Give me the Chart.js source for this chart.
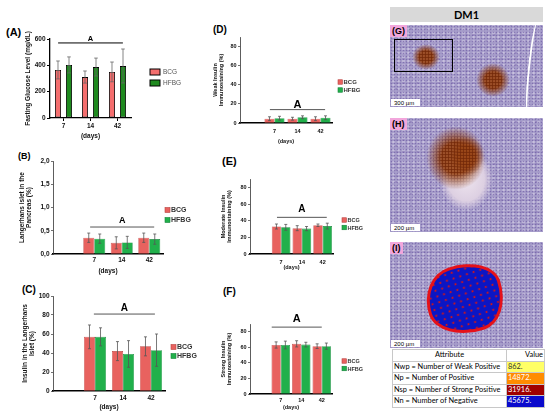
<!DOCTYPE html>
<html>
<head>
<meta charset="utf-8">
<script src="https://cdn.jsdelivr.net/npm/chart.js@4.4.0/dist/chart.umd.min.js"></script>
<style>
  html, body { margin: 0; padding: 0; background: #fff; }
  #fig { position: relative; width: 550px; height: 418px; overflow: hidden; font-family: "Liberation Sans", Arial, sans-serif; }
  #fig canvas { position: absolute; }
  .plabel { position: absolute; font-weight: bold; color: #000; line-height: 1; }
  #dm1 { position: absolute; left: 390px; top: 7px; width: 153px; height: 15px; background: #d9d9d9;
         font: bold 11px Lato, "Open Sans", sans-serif; text-align: center; line-height: 15px; }
  .tissue { position: absolute; overflow: hidden; background-color: #a69dca;
    background-image: radial-gradient(circle, rgba(95,75,155,0.55) 0.6px, transparent 1.1px),
                      radial-gradient(circle, rgba(240,236,248,0.45) 0.9px, transparent 1.6px),
                      radial-gradient(circle, rgba(120,100,170,0.35) 0.8px, transparent 1.4px);
    background-size: 3px 3px, 5px 4px, 7px 6px; background-position: 0 0, 1px 2px, 3px 1px; }
  .blob { position: absolute; border-radius: 50%; }
  .brown { background-image: radial-gradient(circle, rgba(115,40,8,0.95) 0.9px, transparent 1.5px),
             radial-gradient(circle, rgba(160,75,25,0.85) 0.7px, transparent 1.2px),
             radial-gradient(ellipse, rgba(170,90,45,0.55) 0%, rgba(170,90,45,0.25) 50%, rgba(170,90,45,0) 70%);
           background-size: 3px 3px, 2px 2px, 100% 100%; background-position: 0 0, 1px 1px, 0 0;
           -webkit-mask-image: radial-gradient(ellipse, #000 35%, rgba(0,0,0,0) 70%);
           mask-image: radial-gradient(ellipse, #000 35%, rgba(0,0,0,0) 70%); }
  .tag { position: absolute; left: 0; top: 0; background: #f2a6dc; font: bold 9px "Liberation Sans", Arial, sans-serif; padding: 1px 2px; }
  .scale { position: absolute; left: 1px; bottom: 1px; background: #fff; font: 6px "Liberation Sans", Arial, sans-serif; padding: 1px 6px 0 3px; }
  .frame { position: absolute; border: 1.5px solid #000; }
  #tbl { position: absolute; left: 392px; top: 349px; width: 152px; table-layout: fixed; border-collapse: collapse; font: 7.4px Lato, "Open Sans", sans-serif; }
  #tbl td { border: 1px solid #c8c8c8; padding: 0 1px; height: 10.5px; line-height: 10px; white-space: nowrap; overflow: hidden; }
</style>
</head>
<body>
<div id="fig">
  <div class="plabel" style="left:6px;top:27px;font-size:11px">(A)</div>
  <div class="plabel" style="left:18px;top:152px;font-size:9px">(B)</div>
  <div class="plabel" style="left:22px;top:285px;font-size:10px">(C)</div>
  <div class="plabel" style="left:213px;top:25px;font-size:10px">(D)</div>
  <div class="plabel" style="left:222px;top:156px;font-size:11px">(E)</div>
  <div class="plabel" style="left:223px;top:287px;font-size:10px">(F)</div>

  <div id="dm1">DM1</div>

  <div class="tissue" style="left:390px;top:25px;width:153px;height:82px">
    <div class="blob brown" style="left:22px;top:19px;width:28px;height:26px"></div>
    <div class="blob brown" style="left:86px;top:38px;width:34px;height:34px"></div>
    <div style="position:absolute;left:138px;top:-5px;width:8px;height:95px;border-left:2px solid #fff;border-radius:50%;transform:rotate(6deg)"></div>
    <div class="frame" style="left:4px;top:14px;width:57px;height:31px"></div>
    <div class="tag">(G)</div>
    <div class="scale">300 µm</div>
  </div>

  <div class="tissue" style="left:390px;top:118px;width:153px;height:114px">
    <div class="blob" style="left:50px;top:30px;width:52px;height:62px;background:radial-gradient(ellipse, #eee4ee 0%, #ddd0e2 50%, rgba(221,208,226,0) 72%)"></div>
    <div class="blob brown" style="left:36px;top:8px;width:60px;height:64px"></div>
    <div class="blob brown" style="left:60px;top:18px;width:34px;height:40px"></div>
    <div class="tag">(H)</div>
    <div class="scale">200 µm</div>
  </div>

  <div class="tissue" style="left:390px;top:242px;width:153px;height:106px">
    <div style="position:absolute;left:36px;top:22px;width:72px;height:64px;background-color:#0b16c4;
         background-image:radial-gradient(circle, #d41515 0.8px, transparent 1.3px);background-size:7px 6px;
         border:3px solid #e5121a;border-radius:42% 58% 38% 62% / 55% 40% 60% 45%;transform:rotate(-18deg)"></div>
    <div class="tag">(I)</div>
    <div class="scale">200 µm</div>
  </div>

  <table id="tbl">
    <colgroup><col style="width:114px"><col style="width:38px"></colgroup>
    <tr><td style="text-align:center">Attribute</td><td style="text-align:right">Value</td></tr>
    <tr><td>Nwp = Number of Weak Positive</td><td style="background:#ffff66;color:#333">862.</td></tr>
    <tr><td>Np = Number of Positive</td><td style="background:#ff8c00;color:#fff">14872.</td></tr>
    <tr><td>Nsp = Number of Strong Positive</td><td style="background:#a00000;color:#fff">31916.</td></tr>
    <tr><td>Nn = Number of Negative</td><td style="background:#0a0acc;color:#fff">45675.</td></tr>
  </table>
</div>

<script>
// ---- data ----
const days = ['7', '14', '42'];
const groups = ['BCG', 'HFBG'];

const glucoseBCG = [365, 311, 350];
const glucoseBCGsd = [68, 46, 75];
const glucoseHFBG = [403, 387, 395];
const glucoseHFBGsd = [61, 68, 129];
const glucoseTicks = [0, 200, 400, 600];

const isletBCG = [0.35, 0.24, 0.35];
const isletBCGsd = [0.10, 0.13, 0.10];
const isletHFBG = [0.33, 0.25, 0.32];
const isletHFBGsd = [0.10, 0.13, 0.11];
const isletTicks = [0, 0.5, 1.0, 1.5, 2.0];

const insulinBCG = [57, 42, 47];
const insulinBCGsd = [12.5, 10, 10];
const insulinHFBG = [57, 39, 43];
const insulinHFBGsd = [9.5, 14, 17];
const insulinTicks = [0, 10, 20, 30, 40, 50, 60, 70, 80, 90, 100];

const weakBCG = [4.5, 4.5, 4.5];
const weakBCGsd = [2, 1.5, 2];
const weakHFBG = [5, 6, 5.5];
const weakHFBGsd = [2, 1.5, 2];

const moderateBCG = [33, 31, 34.5];
const moderateBCGsd = [3, 3, 1.5];
const moderateHFBG = [32, 30.5, 33.5];
const moderateHFBGsd = [3.5, 2.5, 3.5];

const strongBCG = [63, 64.5, 61.5];
const strongBCGsd = [4, 4, 3];
const strongHFBG = [63, 63.5, 61.5];
const strongHFBGsd = [5, 3, 4];

const stainTicks = [0, 10, 20, 30, 40, 50, 60, 70, 80, 90];

Chart.defaults.font.family = '"Liberation Sans", Arial, sans-serif';
const fig = document.getElementById('fig');

// error bars, significance bar and legend
const extras = {
  id: 'extras',
  afterDraw(chart, args, o) {
    const ctx = chart.ctx, x = chart.scales.x, y = chart.scales.y;
    ctx.save();
    ctx.strokeStyle = o.errColor;
    ctx.lineWidth = 0.8;
    chart.data.datasets.forEach((ds, i) => {
      chart.getDatasetMeta(i).data.forEach((bar, j) => {
        const v = ds.data[j];
        if (v == null) return;
        const t = y.getPixelForValue(v + ds.errors[j]);
        const b = y.getPixelForValue(v - ds.errors[j]);
        ctx.beginPath();
        ctx.moveTo(bar.x, b); ctx.lineTo(bar.x, t);
        ctx.moveTo(bar.x - o.cap, t); ctx.lineTo(bar.x + o.cap, t);
        ctx.moveTo(bar.x - o.cap, b); ctx.lineTo(bar.x + o.cap, b);
        ctx.stroke();
      });
    });

    const s = o.sig;
    const cw = x.getPixelForValue(1) - x.getPixelForValue(0);
    const x0 = x.getPixelForValue(s.from[0]) + s.from[1] * cw;
    const x1 = x.getPixelForValue(s.to[0]) + s.to[1] * cw;
    const sy = y.getPixelForValue(s.y);
    ctx.strokeStyle = s.color;
    ctx.lineWidth = 1;
    ctx.beginPath(); ctx.moveTo(x0, sy); ctx.lineTo(x1, sy); ctx.stroke();
    ctx.fillStyle = '#000';
    ctx.font = 'bold ' + s.font + 'px "Liberation Sans", Arial, sans-serif';
    ctx.textAlign = 'center';
    ctx.textBaseline = 'alphabetic';
    ctx.fillText('A', (x0 + x1) / 2, sy - s.gap);

    const L = o.legend;
    ctx.font = L.weight + ' ' + L.font + 'px "Liberation Sans", Arial, sans-serif';
    ctx.textAlign = 'left';
    ctx.textBaseline = 'middle';
    chart.data.datasets.forEach((ds, i) => {
      const cy = L.y - o.top + i * L.dy;
      const bx = L.x - o.left;
      ctx.fillStyle = ds.backgroundColor;
      ctx.fillRect(bx, cy - L.box[1] / 2, L.box[0], L.box[1]);
      ctx.strokeStyle = L.boxBorder || ds.borderColor;
      ctx.lineWidth = L.boxLine;
      ctx.strokeRect(bx, cy - L.box[1] / 2, L.box[0], L.box[1]);
      ctx.fillStyle = L.color;
      ctx.fillText(ds.label, L.textX - o.left, cy + 0.5);
    });
    ctx.restore();
  }
};

function panel(p) {
  const left = p.area[0] - p.yW, top = p.area[1] - p.padTop;
  const w = p.area[2] + p.padRight - left, h = p.area[3] + p.xH - top;
  const cv = document.createElement('canvas');
  cv.width = w; cv.height = h;
  cv.style.left = left + 'px'; cv.style.top = top + 'px';
  cv.style.width = w + 'px'; cv.style.height = h + 'px';
  fig.appendChild(cv);

  const prism = p.style === 'prism';
  const labels = prism ? days : [''].concat(days);
  const fill = arr => prism ? arr : [null].concat(arr);
  const colors = prism ? ['#f46e6e', '#1f8a1f'] : ['#e8625f', '#21b04b'];
  const borders = prism ? ['#000', '#000'] : ['#b94341', '#15823a'];
  const vals = [p.bcg, p.hfbg], sds = [p.bcgSd, p.hfbgSd];

  new Chart(cv, {
    type: 'bar',
    data: {
      labels: labels,
      datasets: groups.map((g, i) => ({
        label: g,
        data: fill(vals[i]),
        errors: fill(sds[i]),
        backgroundColor: colors[i],
        borderColor: borders[i],
        borderWidth: prism ? 0.9 : 0.6,
        borderSkipped: false,
        categoryPercentage: p.catPct,
        barPercentage: p.barPct
      }))
    },
    options: {
      responsive: false,
      animation: false,
      events: [],
      layout: { padding: { left: 0, top: p.padTop, right: p.padRight, bottom: 0 } },
      plugins: {
        legend: { display: false },
        tooltip: { enabled: false },
        extras: {
          left: left, top: top, sig: p.sig, legend: p.legend,
          cap: prism ? 1.8 : 1.5, errColor: prism ? '#666' : '#555'
        }
      },
      scales: {
        x: {
          offset: true,
          afterFit: s => { s.height = p.xH; },
          border: { display: true, color: '#000', width: prism ? 1.3 : 1.4 },
          grid: prism
            ? { display: true, drawOnChartArea: false, drawTicks: true, tickLength: 3, offset: false, color: '#000' }
            : { display: false, drawTicks: false },
          ticks: { color: '#111', padding: p.xTickPad, maxRotation: 0, autoSkip: false,
                   font: { size: p.tickFont, weight: 'bold' } },
          title: { display: true, text: '(days)', color: '#111',
                   font: { size: p.xTitleFont, weight: 'bold' }, padding: { top: 0, bottom: p.xTitlePad } }
        },
        y: {
          min: 0,
          max: p.ticks[p.ticks.length - 1],
          afterFit: s => { s.width = p.yW; },
          afterBuildTicks: s => { s.ticks = p.ticks.map(v => ({ value: v })); },
          border: { display: true, color: prism ? '#000' : '#333', width: prism ? 1.3 : 0.8 },
          grid: { display: true, drawOnChartArea: false, drawTicks: true, tickLength: prism ? 3 : 2,
                  color: prism ? '#000' : '#333', lineWidth: prism ? 1 : 0.7 },
          ticks: { color: '#111', padding: 1.5, font: { size: p.tickFont, weight: 'bold' },
                   callback: v => p.fmt ? p.fmt(v) : v },
          title: { display: true, text: p.yTitle, color: '#111',
                   font: { size: p.yTitleFont, weight: 'bold' }, padding: { top: p.yTitlePad, bottom: 0 } }
        }
      }
    },
    plugins: [extras]
  });
}

panel({
  style: 'prism', area: [50, 39, 131, 118], yW: 50, padTop: 12, padRight: 58, xH: 25,
  bcg: glucoseBCG, bcgSd: glucoseBCGsd, hfbg: glucoseHFBG, hfbgSd: glucoseHFBGsd,
  ticks: glucoseTicks, tickFont: 6.5, xTickPad: 1, xTitleFont: 6.5, xTitlePad: 3,
  yTitle: 'Fasting Glucose Level (mg/dL)', yTitleFont: 6.5, yTitlePad: 24,
  catPct: 0.815, barPct: 0.55,
  sig: { y: 570, from: [0, -0.2], to: [2, 0.2], font: 7.5, gap: 2, color: '#000' },
  legend: { x: 150, y: 72, dy: 11, box: [10, 6], boxBorder: '#000', boxLine: 1, textX: 163,
            font: 6.5, weight: 'normal', color: '#555' }
});

panel({
  style: 'excel', area: [53, 161, 163, 254], yW: 41, padTop: 11, padRight: 32, xH: 22,
  bcg: isletBCG, bcgSd: isletBCGsd, hfbg: isletHFBG, hfbgSd: isletHFBGsd,
  ticks: isletTicks, fmt: v => v.toFixed(1).replace('.', ','),
  tickFont: 6.5, xTickPad: 2, xTitleFont: 6.5, xTitlePad: 1,
  yTitle: ['Langerhans islet in the', 'Pancreas (%)'], yTitleFont: 6.5, yTitlePad: 6,
  catPct: 0.8, barPct: 1,
  sig: { y: 0.58, from: [1, -0.15], to: [3, 0.18], font: 9, gap: 4, color: '#555' },
  legend: { x: 165, y: 210, dy: 10, box: [5, 5], boxLine: 0.6, textX: 171, font: 7, weight: 'bold', color: '#333' }
});

panel({
  style: 'excel', area: [53, 296, 165, 391], yW: 39, padTop: 12, padRight: 35, xH: 22,
  bcg: insulinBCG, bcgSd: insulinBCGsd, hfbg: insulinHFBG, hfbgSd: insulinHFBGsd,
  ticks: insulinTicks, tickFont: 6.5, xTickPad: 3, xTitleFont: 6.5, xTitlePad: 2,
  yTitle: ['Insulin in the Langerhans', 'Islet (%)'], yTitleFont: 6.5, yTitlePad: 7,
  catPct: 0.79, barPct: 1,
  sig: { y: 81, from: [1, -0.04], to: [3, 0.14], font: 10, gap: 3, color: '#555' },
  legend: { x: 171, y: 347, dy: 9, box: [5, 5], boxLine: 0.6, textX: 177, font: 7, weight: 'bold', color: '#333' }
});

panel({
  style: 'excel', area: [240, 37, 332, 123], yW: 32, padTop: 10, padRight: 33, xH: 23,
  bcg: weakBCG, bcgSd: weakBCGsd, hfbg: weakHFBG, hfbgSd: weakHFBGsd,
  ticks: stainTicks, tickFont: 5.5, xTickPad: 5, xTitleFont: 5.5, xTitlePad: 1.7,
  yTitle: ['Weak Insulin', 'Immunostaining (%)'], yTitleFont: 5.5, yTitlePad: 3.7,
  catPct: 0.87, barPct: 1,
  sig: { y: 14, from: [1, -0.2], to: [3, 0.2], font: 11, gap: 2, color: '#555' },
  legend: { x: 338, y: 82, dy: 8, box: [4.5, 4.5], boxLine: 0.6, textX: 343.5, font: 6, weight: 'bold', color: '#333' }
});

panel({
  style: 'excel', area: [250, 179, 333, 254], yW: 34, padTop: 11, padRight: 35, xH: 17,
  bcg: moderateBCG, bcgSd: moderateBCGsd, hfbg: moderateHFBG, hfbgSd: moderateHFBGsd,
  ticks: stainTicks, tickFont: 5.5, xTickPad: 5, xTitleFont: 5.5, xTitlePad: 0.7,
  yTitle: ['Moderate Insulin', 'Immunostaining (%)'], yTitleFont: 5.5, yTitlePad: 3.7,
  catPct: 0.9, barPct: 1,
  sig: { y: 44, from: [1, -0.2], to: [3, 0.2], font: 10, gap: 5, color: '#555' },
  legend: { x: 342, y: 220, dy: 7.5, box: [4.5, 4.5], boxLine: 0.6, textX: 347.5, font: 5.5, weight: 'bold', color: '#333' }
});

panel({
  style: 'excel', area: [250, 324, 332, 394], yW: 34, padTop: 14, padRight: 36, xH: 18,
  bcg: strongBCG, bcgSd: strongBCGsd, hfbg: strongHFBG, hfbgSd: strongHFBGsd,
  ticks: stainTicks, tickFont: 5.5, xTickPad: 3, xTitleFont: 5.5, xTitlePad: 1.7,
  yTitle: ['Strong Insulin', 'Immunostaining (%)'], yTitleFont: 5.5, yTitlePad: 3.7,
  catPct: 0.9, barPct: 1,
  sig: { y: 86, from: [1, -0.44], to: [3, 0.0], font: 11, gap: 5, color: '#555' },
  legend: { x: 342, y: 361, dy: 7.5, box: [4.5, 4.5], boxLine: 0.6, textX: 347.5, font: 5.5, weight: 'bold', color: '#333' }
});
</script>
</body>
</html>
